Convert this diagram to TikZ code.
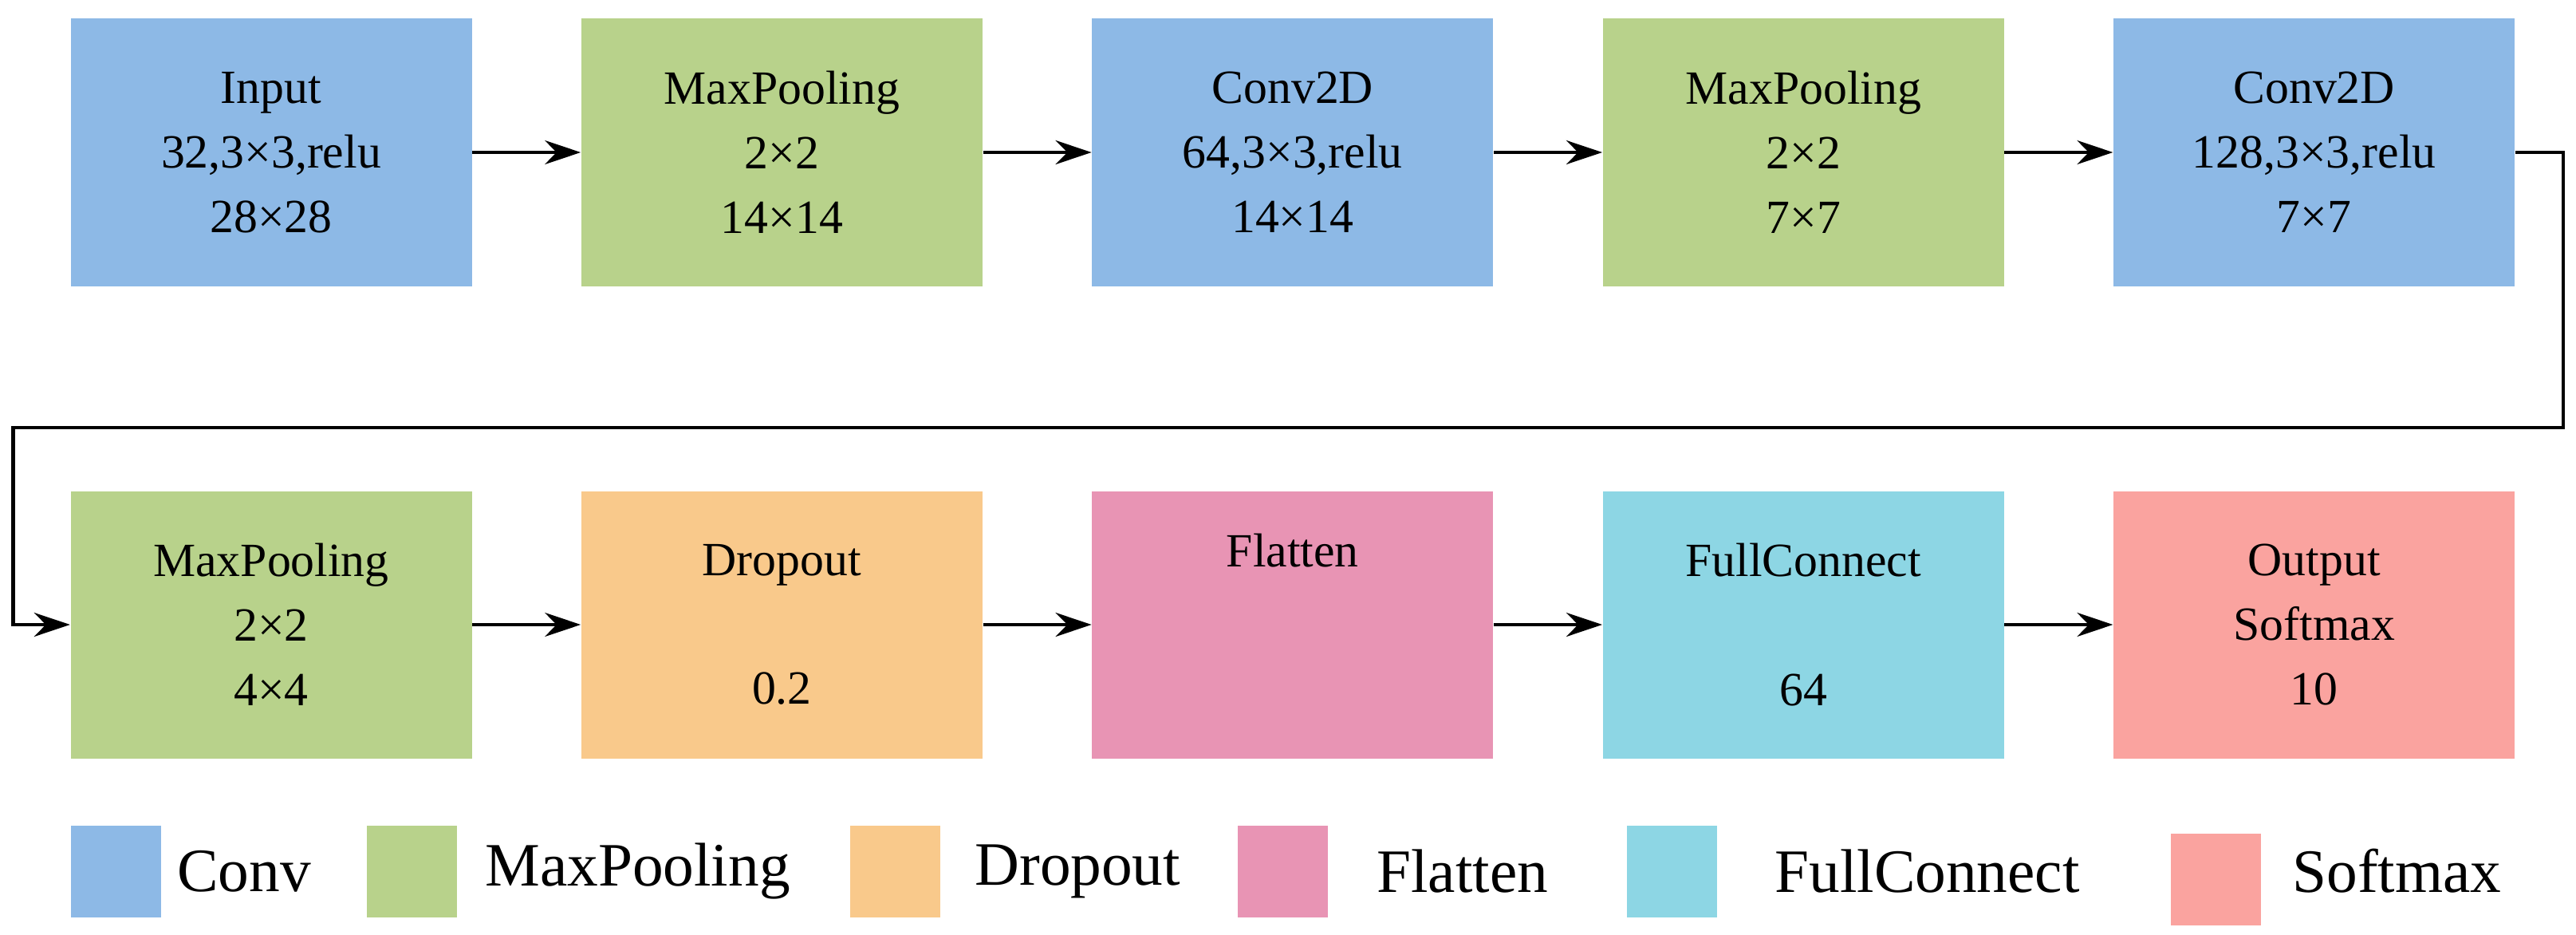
\documentclass[tikz,border=0pt]{standalone}
\usepackage{fontspec}
\setmainfont{Liberation Serif}
\usetikzlibrary{positioning,arrows.meta}
\definecolor{convc}{HTML}{8DB9E6}
\definecolor{poolc}{HTML}{B8D28B}
\definecolor{dropc}{HTML}{F9C98B}
\definecolor{flatc}{HTML}{E894B4}
\definecolor{fullc}{HTML}{8DD6E4}
\definecolor{softc}{HTML}{FAA39F}
\begin{document}
\begin{tikzpicture}[layer/.style={shape=rectangle,minimum width=5.03cm,minimum height=3.35cm,align=center,
                        font=\fontsize{17}{23}\selectfont},
                        key/.style={shape=rectangle,minimum width=1.13cm,minimum height=1.15cm},
                        keytext/.style={anchor=west,font=\fontsize{22}{26}\selectfont},
                        conn/.style={->,>={Stealth[length=0.45cm,width=0.3cm]},line width=1.2pt}]
                        \useasboundingbox (0,0) rectangle (32.30,11.71);
                        % first row
                        \node[layer,fill=convc] at (3.40,9.80) (in) {Input\\32,3×3,relu\\28×28};
                        \node[layer,fill=poolc,right=1.36cm of in] (mp1) {MaxPooling\\2×2\\14×14};
                        \node[layer,fill=convc,right=1.36cm of mp1] (cv2) {Conv2D\\64,3×3,relu\\14×14};
                        \node[layer,fill=poolc,right=1.36cm of cv2] (mp2) {MaxPooling\\2×2\\7×7};
                        \node[layer,fill=convc,right=1.36cm of mp2] (cv3) {Conv2D\\128,3×3,relu\\7×7};
                        % second row
                        \node[layer,fill=poolc] at (3.40,3.88) (mp3) {MaxPooling\\2×2\\4×4};
                        \node[layer,fill=dropc,right=1.36cm of mp3] (drop) {Dropout\\\strut\\0.2};
                        \node[layer,fill=flatc,right=1.36cm of drop] (flat) {Flatten\\\strut\\\strut};
                        \node[layer,fill=fullc,right=1.36cm of flat] (fc) {FullConnect\\\strut\\64};
                        \node[layer,fill=softc,right=1.36cm of fc] (out) {Output\\Softmax\\10};
                        \draw[conn] (in) -- (mp1);
                        \draw[conn] (mp1) -- (cv2);
                        \draw[conn] (cv2) -- (mp2);
                        \draw[conn] (mp2) -- (cv3);
                        \coordinate (turnr) at (32.14,6.35);
                        \coordinate (turnl) at (0.165,6.35);
                        \draw[conn] (cv3.east) -| (turnr) -- (turnl) |- (mp3.west);
                        \draw[conn] (mp3) -- (drop);
                        \draw[conn] (drop) -- (flat);
                        \draw[conn] (flat) -- (fc);
                        \draw[conn] (fc) -- (out);
                        % legend
                        \node[key,fill=convc] at (1.45,0.79) (k1) {};
                        \node[keytext] at (2.10,0.79) (t1) {Conv};
                        \node[key,fill=poolc] at (5.16,0.79) (k2) {};
                        \node[keytext] at (5.96,0.79) (t2) {MaxPooling};
                        \node[key,fill=dropc] at (11.22,0.79) (k3) {};
                        \node[keytext] at (12.10,0.79) (t3) {Dropout};
                        \node[key,fill=flatc] at (16.08,0.79) (k4) {};
                        \node[keytext] at (17.14,0.79) (t4) {Flatten};
                        \node[key,fill=fullc] at (20.96,0.79) (k5) {};
                        \node[keytext] at (22.13,0.79) (t5) {FullConnect};
                        \node[key,fill=softc] at (27.78,0.69) (k6) {};
                        \node[keytext] at (28.62,0.79) (t6) {Softmax};
                \end{tikzpicture}
\end{document}
